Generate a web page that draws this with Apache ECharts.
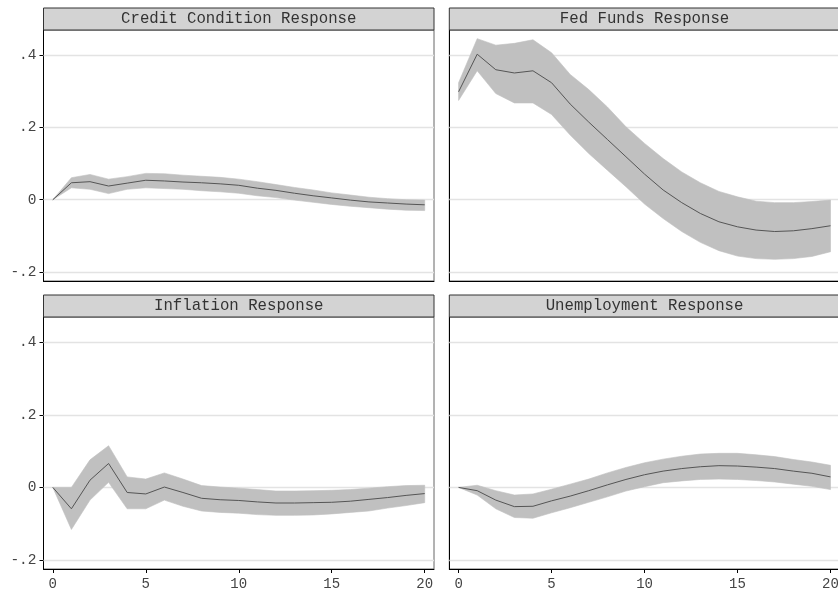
<!DOCTYPE html>
<html>
<head>
<meta charset="utf-8">
<script src="https://cdn.jsdelivr.net/npm/echarts@6/dist/echarts.min.js"></script>
<style>html,body{margin:0;padding:0;background:#fff}#c{width:838px;height:594px}</style>
</head>
<body>
<div id="c"></div>
<script>
// ---- data ----
const horizons = [0,1,2,3,4,5,6,7,8,9,10,11,12,13,14,15,16,17,18,19,20];
const panelTitles = ['Credit Condition Response','Fed Funds Response','Inflation Response','Unemployment Response'];
const yTickValues = [-0.2, 0, 0.2, 0.4];
const yTickLabels = ['-.2', '0', '.2', '.4'];
const xTickValues = [0, 5, 10, 15, 20];
const xTickLabels = ['0', '5', '10', '15', '20'];

const creditIRF   = [0,0.047,0.050,0.038,0.046,0.054,0.052,0.049,0.047,0.044,0.040,0.032,0.026,0.018,0.011,0.005,-0.001,-0.006,-0.009,-0.012,-0.014];
const creditUpper = [0,0.061,0.070,0.057,0.064,0.073,0.072,0.068,0.065,0.062,0.057,0.050,0.042,0.034,0.027,0.019,0.013,0.007,0.003,0.000,-0.001];
const creditLower = [0,0.033,0.029,0.017,0.029,0.033,0.031,0.029,0.025,0.022,0.018,0.011,0.006,-0.001,-0.007,-0.013,-0.018,-0.022,-0.026,-0.029,-0.030];

const fedIRF   = [0.299,0.403,0.360,0.351,0.357,0.324,0.265,0.215,0.167,0.119,0.071,0.027,-0.008,-0.038,-0.061,-0.075,-0.084,-0.088,-0.086,-0.080,-0.072];
const fedUpper = [0.324,0.446,0.428,0.433,0.443,0.407,0.347,0.305,0.257,0.202,0.156,0.114,0.077,0.047,0.023,0.008,-0.004,-0.008,-0.008,-0.005,-0.001];
const fedLower = [0.275,0.357,0.294,0.268,0.268,0.236,0.179,0.128,0.082,0.036,-0.012,-0.052,-0.088,-0.118,-0.141,-0.156,-0.163,-0.165,-0.163,-0.157,-0.144];

const inflIRF   = [0,-0.059,0.020,0.066,-0.014,-0.018,0.001,-0.014,-0.030,-0.034,-0.036,-0.040,-0.043,-0.043,-0.042,-0.041,-0.038,-0.033,-0.028,-0.022,-0.017];
const inflUpper = [0,0.000,0.076,0.115,0.029,0.023,0.040,0.023,0.005,0.001,-0.002,-0.006,-0.010,-0.010,-0.009,-0.008,-0.006,-0.002,0.002,0.005,0.006];
const inflLower = [0,-0.116,-0.035,0.014,-0.059,-0.059,-0.035,-0.052,-0.065,-0.069,-0.071,-0.075,-0.077,-0.077,-0.076,-0.073,-0.069,-0.065,-0.057,-0.050,-0.042];

const unempIRF   = [0,-0.009,-0.035,-0.053,-0.052,-0.037,-0.024,-0.009,0.007,0.022,0.035,0.045,0.052,0.057,0.060,0.059,0.056,0.052,0.045,0.039,0.029];
const unempUpper = [0,0.006,-0.009,-0.021,-0.018,-0.005,0.009,0.023,0.040,0.055,0.068,0.078,0.086,0.092,0.094,0.094,0.090,0.085,0.077,0.070,0.061];
const unempLower = [0,-0.021,-0.059,-0.083,-0.085,-0.070,-0.056,-0.041,-0.026,-0.010,0.002,0.013,0.018,0.022,0.023,0.022,0.019,0.015,0.009,0.003,-0.006];

const panels = [
  {irf: creditIRF, upper: creditUpper, lower: creditLower},
  {irf: fedIRF, upper: fedUpper, lower: fedLower},
  {irf: inflIRF, upper: inflUpper, lower: inflLower},
  {irf: unempIRF, upper: unempUpper, lower: unempLower}
];

// ---- layout ----
const FONT = 'Liberation Mono';
const gridPos = [
  {left: 43.5, top: 30, width: 390.5, height: 251},
  {left: 449.3, top: 30, width: 390.5, height: 251},
  {left: 43.5, top: 317, width: 390.5, height: 252},
  {left: 449.3, top: 317, width: 390.5, height: 252}
];
const headerH = 22;

const grid = [], xAxis = [], yAxis = [], series = [], graphic = [];
gridPos.forEach((g, i) => {
  grid.push({left: g.left, top: g.top, width: g.width, height: g.height, show: true,
    borderColor: '#666', borderWidth: 1, backgroundColor: '#fff', containLabel: false,
    outerBoundsMode: 'none'});
  const isBottom = i >= 2, isLeft = i % 2 === 0;
  xAxis.push({type: 'value', gridIndex: i, min: -0.5, max: 20.5,
    axisLine: {show: true, onZero: false, lineStyle: {color: '#000', width: 1}},
    axisTick: {show: isBottom, length: 4, lineStyle: {color: '#000'}, customValues: xTickValues},
    axisLabel: {show: isBottom, margin: 8, color: '#444', fontFamily: FONT, fontSize: 14,
      customValues: xTickValues, formatter: v => xTickLabels[xTickValues.indexOf(v)]},
    splitLine: {show: false}});
  yAxis.push({type: 'value', gridIndex: i, min: -0.225, max: 0.47,
    axisLine: {show: true, onZero: false, lineStyle: {color: '#000', width: 1}},
    axisTick: {show: isLeft, length: 4, lineStyle: {color: '#000'}, customValues: yTickValues},
    axisLabel: {show: isLeft, margin: 7, color: '#444', fontFamily: FONT, fontSize: 14.5,
      customValues: yTickValues, formatter: v => {
        let k = yTickValues.findIndex(t => Math.abs(t - v) < 1e-9); return k >= 0 ? yTickLabels[k] : ''; }},
    splitLine: {show: false}});

  const p = panels[i];
  // confidence band as a single polygon, positioned through the axes
  series.push({type: 'custom', xAxisIndex: i, yAxisIndex: i, silent: true, z: 2, clip: true,
    data: horizons.map((h, k) => [h, p.lower[k], p.upper[k]]),
    encode: {x: 0, y: [1, 2]},
    renderItem: (params, api) => {
      if (params.dataIndex !== 0) return null;
      const pts = [];
      horizons.forEach((h, k) => pts.push(api.coord([h, p.upper[k]])));
      for (let k = horizons.length - 1; k >= 0; k--) pts.push(api.coord([horizons[k], p.lower[k]]));
      return {type: 'polygon', shape: {points: pts}, style: {fill: '#c0c0c0', stroke: '#c0c0c0', lineWidth: 0.6}};
    },
    markLine: {silent: true, symbol: ['none', 'none'], label: {show: false}, z: 1,
      lineStyle: {color: '#e3e3e3', type: 'solid', width: 1.3},
      data: yTickValues.map(v => ({yAxis: v}))}});
  // point estimate
  series.push({type: 'line', xAxisIndex: i, yAxisIndex: i,
    data: horizons.map((h, k) => [h, p.irf[k]]), symbol: 'none', silent: true, z: 3,
    lineStyle: {color: '#555', width: 1}});

  graphic.push({type: 'rect', z: 10,
    shape: {x: g.left, y: g.top - headerH, width: g.width, height: headerH},
    style: {fill: '#d3d3d3', stroke: '#333', lineWidth: 1}});
  graphic.push({type: 'text', z: 11, x: g.left + g.width / 2, y: g.top - headerH / 2,
    style: {text: panelTitles[i], fill: '#333', font: '15.7px "' + FONT + '"', textAlign: 'center', textVerticalAlign: 'middle'}});
});

const chart = echarts.init(document.getElementById('c'), null, {renderer: 'canvas'});
chart.setOption({animation: false, backgroundColor: '#fff', grid, xAxis, yAxis, series, graphic});
</script>
</body>
</html>
